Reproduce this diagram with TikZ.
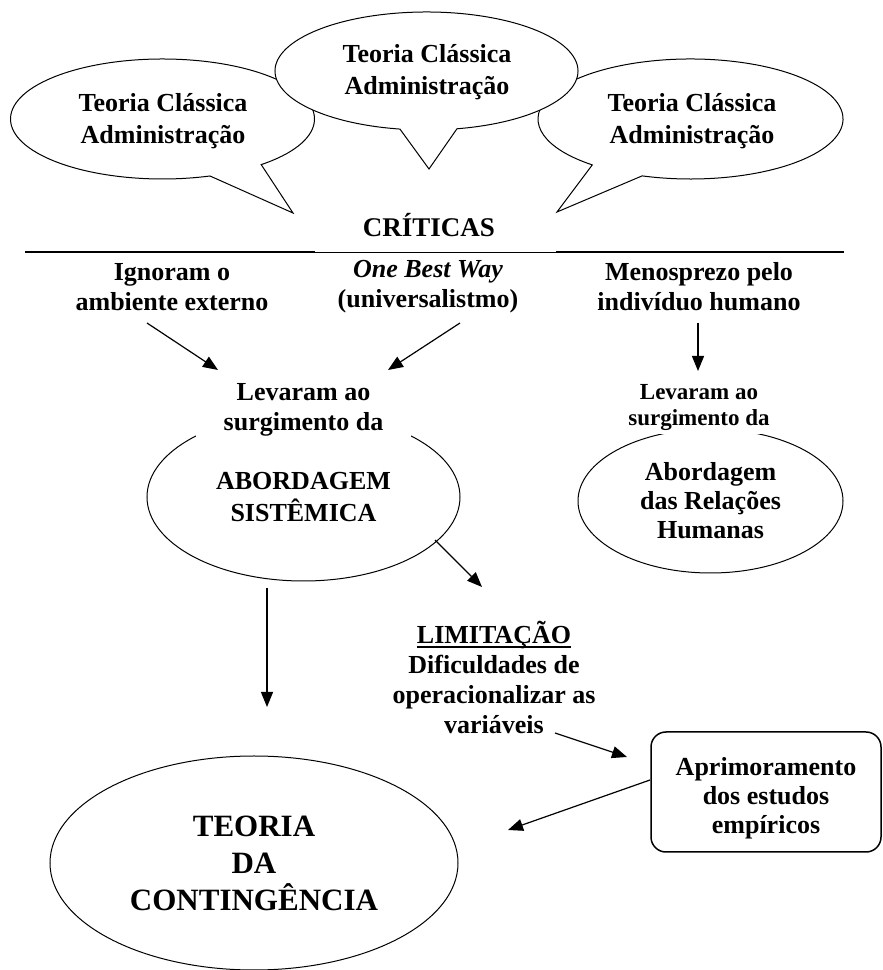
\documentclass[tikz,border=0pt]{standalone}
\usepackage{fontspec}
\setmainfont{Liberation Serif}
\usetikzlibrary{arrows.meta,shapes.geometric}
\newcommand\myul[1]{\setbox0\hbox{#1}\rlap{\rule[-4.5bp]{\wd0}{1.8bp}}\box0}
\begin{document}
\begin{tikzpicture}[x=1bp,y=1bp,
  every node/.style={font=\fontsize{26bp}{30bp}\selectfont\bfseries, align=center, inner sep=0pt},
  bub/.style={draw, fill=white, line width=1bp, line join=miter},
  bubtext/.style={font=\fontsize{26bp}{32bp}\selectfont\bfseries},
  oval/.style={ellipse, draw, line width=1bp},
  arr/.style={-{Triangle[length=15bp,width=12bp]}, line width=1.2bp},
  thickrule/.style={line width=1.7bp},
  thinrule/.style={line width=0.9bp}
]
\useasboundingbox (0,0) rectangle (883,970);

% speech bubbles
\path[bub] (162.5,851) ++(-49.5:152 and 60)
  arc[start angle=-49.5, end angle=288.2, x radius=152, y radius=60]
  -- (293,757) -- cycle;
\path[bub] (690.5,851) ++(251.5:152.5 and 60)
  arc[start angle=251.5, end angle=589.9, x radius=152.5, y radius=60]
  -- (557,758) -- cycle;
\path[bub] (426.5,899) ++(-78.4:151.5 and 59)
  arc[start angle=-78.4, end angle=259.9, x radius=151.5, y radius=59]
  -- (429,801) -- cycle;

\node[bubtext] (b1) at (163,849) {Teoria Clássica\\Administração};
\node[bubtext] (b2) at (427,898) {Teoria Clássica\\Administração};
\node[bubtext] (b3) at (692,849) {Teoria Clássica\\Administração};

\node[font=\fontsize{27bp}{30bp}\selectfont\bfseries] (crit) at (429,745) {CRÍTICAS};

% rule
\coordinate (r0) at (25,718);
\coordinate (r1) at (315,718);
\coordinate (r2) at (556,718);
\coordinate (r3) at (844,718);
\draw[thickrule] (r0) -- (r1);
\draw[thinrule] (r1) -- (r2);
\draw[thickrule] (r2) -- (r3);

\node (ign) at (172,683) {Ignoram o\\ambiente externo};
\node (obw) at (428,683) {{\itshape One Best Way}\\(universalistmo)};
\node (men) at (699,683) {Menosprezo pelo\\indivíduo humano};

% ellipses
\node[oval, minimum width=313bp, minimum height=168bp, font=\fontsize{26bp}{32bp}\selectfont\bfseries] (abs) at (303.5,473) {ABORDAGEM\\SISTÊMICA};
\node[oval, minimum width=265bp, minimum height=144bp, font=\fontsize{26bp}{29bp}\selectfont\bfseries] (arh) at (710.5,469) {Abordagem\\das Relações\\Humanas};

\node[fill=white, inner xsep=28bp, inner ysep=9bp] (lev1) at (303.5,560) {Levaram ao\\surgimento da};
\node[fill=white, inner sep=3bp, font=\fontsize{23bp}{26bp}\selectfont\bfseries] (lev2) at (699,562) {Levaram ao\\surgimento da};

\node (lim) at (494,293) {\myul{LIMITAÇÃO}\\Dificuldades de\\operacionalizar as\\variáveis};

\node[draw, rounded corners=15bp, line width=1.5bp, minimum width=230bp, minimum height=120bp, font=\fontsize{26bp}{29bp}\selectfont\bfseries] (apr) at (766,178) {\rule{0pt}{30bp}Aprimoramento\\dos estudos\\empíricos};

\node[oval, minimum width=408bp, minimum height=214bp, font=\fontsize{31bp}{37bp}\selectfont\bfseries] (teo) at (254,107) {TEORIA\\DA\\CONTINGÊNCIA};

% arrows
\coordinate (a1s) at (147,647); \coordinate (a1e) at (218,600);
\coordinate (a2s) at (460,647); \coordinate (a2e) at (388,600);
\coordinate (a3s) at (698,647); \coordinate (a3e) at (698,599);
\coordinate (a4s) at (435,430); \coordinate (a4e) at (482,383);
\coordinate (a5s) at (267,382); \coordinate (a5e) at (267,263);
\coordinate (a6s) at (555,237); \coordinate (a6e) at (627,213);
\coordinate (a7s) at (650,190); \coordinate (a7e) at (508,140);
\draw[arr] (a1s) -- (a1e);
\draw[arr] (a2s) -- (a2e);
\draw[arr] (a3s) -- (a3e);
\draw[arr] (a4s) -- (a4e);
\draw[arr] (a5s) -- (a5e);
\draw[arr] (a6s) -- (a6e);
\draw[arr] (a7s) -- (a7e);
\end{tikzpicture}
\end{document}
